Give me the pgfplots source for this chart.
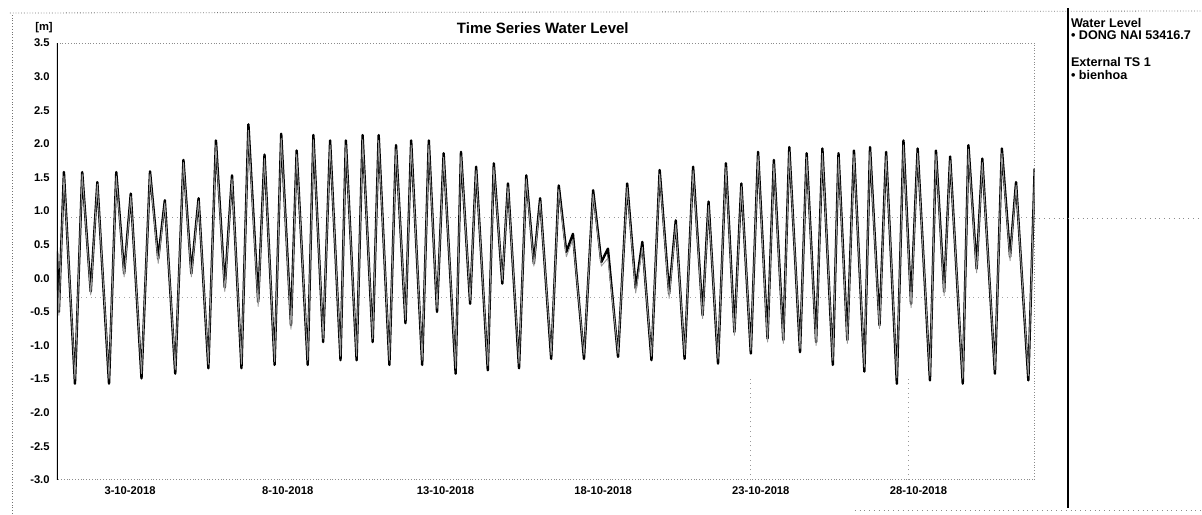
\documentclass[border=0pt]{standalone}
\usepackage{pgfplots}
\pgfplotsset{compat=1.18}
\usepackage{pgfplotstable}
\usepackage{fontspec}
\setmainfont{Liberation Sans}

\pgfplotstableread{
day val
1.00 0.40
1.06 -0.50
1.22 1.58
1.57 -1.57
1.80 1.58
2.07 -0.20
2.28 1.43
2.65 -1.57
2.88 1.58
3.13 0.07
3.34 1.26
3.68 -1.49
3.95 1.59
4.21 0.29
4.42 1.16
4.75 -1.42
5.01 1.76
5.26 0.07
5.49 1.19
5.80 -1.34
6.04 2.05
6.32 -0.14
6.55 1.53
6.85 -1.34
7.07 2.29
7.38 -0.35
7.58 1.84
7.90 -1.29
8.11 2.15
8.42 -0.70
8.60 1.90
8.95 -1.29
9.13 2.13
9.44 -0.95
9.66 2.05
9.99 -1.22
10.16 2.05
10.50 -1.22
10.69 2.13
11.01 -0.95
11.20 2.13
11.54 -1.29
11.75 1.98
12.05 -0.67
12.23 2.05
12.58 -1.29
12.79 2.05
13.05 -0.50
13.26 1.86
13.64 -1.42
13.81 1.88
14.10 -0.38
14.29 1.66
14.66 -1.37
14.85 1.71
15.12 -0.08
15.30 1.41
15.65 -1.34
15.88 1.53
16.12 0.22
16.32 1.19
16.67 -1.20
16.91 1.38
17.15 0.39
17.36 0.66
17.71 -1.20
18.00 1.31
18.26 0.24
18.47 0.44
18.79 -1.17
19.08 1.41
19.35 -0.15
19.56 0.54
19.85 -1.22
20.11 1.61
20.41 -0.23
20.62 0.86
20.90 -1.20
21.17 1.66
21.47 -0.55
21.66 1.14
21.96 -1.27
22.21 1.71
22.48 -0.80
22.70 1.41
23.00 -1.12
23.23 1.88
23.53 -0.90
23.73 1.76
24.03 -0.92
24.22 1.95
24.56 -1.10
24.77 1.86
25.07 -0.95
25.27 1.93
25.60 -1.29
25.78 1.86
26.06 -0.92
26.27 1.90
26.60 -1.39
26.78 1.95
27.08 -0.70
27.29 1.88
27.63 -1.57
27.84 2.05
28.08 -0.38
28.29 1.93
28.68 -1.52
28.87 1.90
29.13 -0.20
29.32 1.81
29.72 -1.57
29.90 1.98
30.16 0.14
30.34 1.78
30.74 -1.42
30.96 1.93
31.22 0.32
31.41 1.43
31.80 -1.52
32.00 1.63
}\dongnai

\pgfplotstableread{
day val
1.00 0.30
1.06 -0.55
1.22 1.52
1.57 -1.50
1.80 1.55
2.07 -0.25
2.28 1.40
2.65 -1.50
2.88 1.52
3.13 0.02
3.34 1.22
3.68 -1.42
3.95 1.55
4.21 0.22
4.42 1.12
4.75 -1.36
5.01 1.72
5.26 0.02
5.49 1.15
5.80 -1.28
6.04 1.98
6.32 -0.20
6.55 1.48
6.85 -1.28
7.07 2.20
7.38 -0.42
7.58 1.78
7.90 -1.24
8.11 2.08
8.42 -0.76
8.60 1.84
8.95 -1.22
9.13 2.06
9.44 -0.90
9.66 1.98
9.99 -1.16
10.16 1.98
10.50 -1.16
10.69 2.06
11.01 -0.90
11.20 2.05
11.54 -1.22
11.75 1.92
12.05 -0.62
12.23 1.98
12.58 -1.22
12.79 1.98
13.05 -0.45
13.26 1.80
13.64 -1.34
13.81 1.82
14.10 -0.33
14.29 1.60
14.66 -1.30
14.85 1.65
15.12 -0.03
15.30 1.36
15.65 -1.27
15.88 1.48
16.12 0.18
16.32 1.14
16.67 -1.14
16.91 1.32
17.15 0.32
17.36 0.58
17.71 -1.14
18.00 1.25
18.26 0.18
18.47 0.30
18.79 -1.12
19.08 1.35
19.35 -0.22
19.56 0.46
19.85 -1.16
20.11 1.55
20.41 -0.30
20.62 0.80
20.90 -1.14
21.17 1.60
21.47 -0.60
21.66 1.08
21.96 -1.20
22.21 1.65
22.48 -0.85
22.70 1.36
23.00 -1.07
23.23 1.82
23.53 -0.95
23.73 1.70
24.03 -0.97
24.22 1.88
24.56 -1.05
24.77 1.80
25.07 -1.00
25.27 1.86
25.60 -1.22
25.78 1.80
26.06 -0.97
26.27 1.84
26.60 -1.32
26.78 1.88
27.08 -0.75
27.29 1.82
27.63 -1.48
27.84 1.98
28.08 -0.44
28.29 1.86
28.68 -1.45
28.87 1.84
29.13 -0.26
29.32 1.75
29.72 -1.50
29.90 1.92
30.16 0.08
30.34 1.72
30.74 -1.36
30.96 1.86
31.22 0.26
31.41 1.38
31.80 -1.45
32.00 1.58
}\bienhoa

\begin{document}
\begin{tikzpicture}[x=0.5pt,y=0.5pt]
% page frame (1202 x 514 px, 1 px = 0.5pt)
\path (0,0) rectangle (1202,514);
% scanned frame lines
\draw[black!55, densely dotted, line width=0.4pt] (12,0) -- (12,501);
\draw[black!55, densely dotted, line width=0.4pt] (10,501) -- (1202,503);
\draw[black, line width=0.9pt] (1068,6) -- (1068,506);
\draw[black!45, dotted, line width=0.4pt] (855,3) -- (1202,3);
\draw[black!45, dotted, line width=0.4pt] (1035,296) -- (1202,296);
% title and unit
\node[font=\fontsize{7.5}{9}\selectfont\bfseries] at (543,486) {Time Series Water Level};
\node[font=\fontsize{5.6}{6}\selectfont\bfseries] at (44,486) {[m]};
% legend text
\begin{scope}[every node/.style={anchor=west, inner sep=0pt, font=\fontsize{6.3}{7}\selectfont\bfseries}]
\node at (1071,491) {Water Level};
\node at (1071,479) {\textbullet\ DONG NAI 53416.7};
\node at (1071,452) {External TS 1};
\node at (1071,439) {\textbullet\ bienhoa};
\end{scope}
\begin{axis}[
  at={(28.5pt,17pt)}, anchor=south west,
  scale only axis, width=489pt, height=218.5pt,
  xmin=1, xmax=32, ymin=-3, ymax=3.5,
  xtick={3,8,13,18,23,28},
  xticklabels={3-10-2018,8-10-2018,13-10-2018,18-10-2018,23-10-2018,28-10-2018},
  ytick={-3,-2.5,...,3.5},
  /pgf/number format/fixed,
  /pgf/number format/fixed zerofill,
  /pgf/number format/precision=1,
  /pgf/number format/assume math mode=true,
  tick label style={font=\fontsize{5.6}{6}\selectfont\bfseries},
  yticklabel style={anchor=east, inner sep=0pt, xshift=-3.5pt},
  xticklabel style={anchor=north, inner sep=0pt, yshift=-3pt, xshift=5pt},
  major tick length=0pt,
  axis line style={black!45, line width=0.4pt, densely dotted},
  clip=true,
]
\draw[black!40, dotted, line width=0.4pt] (axis cs:1,0.9) -- (axis cs:32,0.9);
\draw[black!35, dotted, line width=0.4pt] (axis cs:1,-0.28) -- (axis cs:32,-0.28);
\draw[black!40, dotted, line width=0.4pt] (axis cs:23,-3) -- (axis cs:23,-1.5);
\draw[black!40, dotted, line width=0.4pt] (axis cs:28,-3) -- (axis cs:28,-1.5);
\addplot[black, line width=1.2pt, line join=round, mark=none] table[x=day,y=val] {\dongnai};
\addplot[black!40, line width=0.45pt, line join=round, mark=none] table[x=day,y=val] {\bienhoa};
\draw[black, line width=1.1pt] (axis cs:1,-3) -- (axis cs:1,3.5);
\end{axis}
\end{tikzpicture}
\end{document}
